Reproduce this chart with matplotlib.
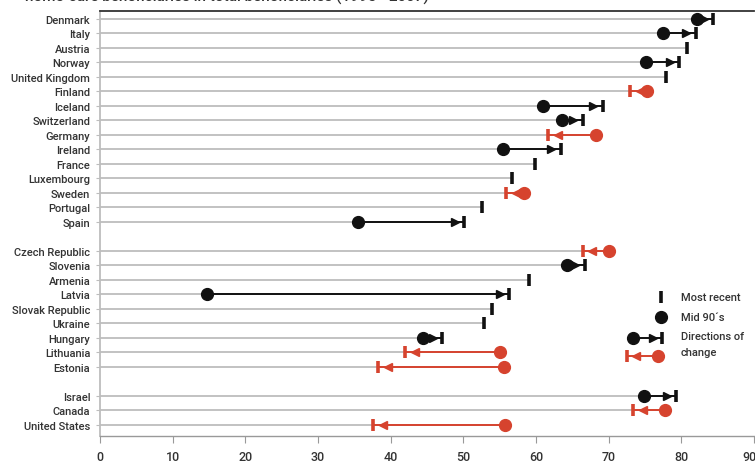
import matplotlib
matplotlib.use("Agg")
import matplotlib.pyplot as plt
import numpy as np

# ---- data ----
group1 = ["Denmark", "Italy", "Austria", "Norway", "United Kingdom", "Finland", "Iceland",
          "Switzerland", "Germany", "Ireland", "France", "Luxembourg", "Sweden", "Portugal", "Spain"]
group2 = ["Czech Republic", "Slovenia", "Armenia", "Latvia", "Slovak Republic", "Ukraine",
          "Hungary", "Lithuania", "Estonia"]
group3 = ["Israel", "Canada", "United States"]

recent1 = [84.4, 82.0, 80.8, 79.7, 77.9, 73.0, 69.2, 66.4, 61.7, 63.4, 59.9, 56.7, 55.9, 52.6, 50.1]
mid90_1 = [82.2, 77.5, None, 75.2, None, 75.3, 61.0, 63.6, 68.3, 55.4, None, None, 58.3, None, 35.5]
recent2 = [66.4, 66.7, 59.1, 56.3, 53.9, 52.8, 47.1, 42.0, 38.3]
mid90_2 = [70.1, 64.2, None, 14.7, None, None, 44.5, 55.1, 55.6]
recent3 = [79.3, 73.4, 37.6]
mid90_3 = [74.8, 77.7, 55.8]

xticks = [0, 10, 20, 30, 40, 50, 60, 70, 80, 90]
xticklabels = ["0", "10", "20", "30", "40", "50", "60", "70", "80", "90%"]

title = "home-care beneficiaries in total beneficiaries (1995 - 2007)"

# ---- style ----
BLACK = "#111111"
RED = "#d6432e"
GRAY = "#bdbdbd"
TXT = dict(fontfamily=["Roboto", "DejaVu Sans"], fontweight="medium")
fs_lab = 8

fig = plt.figure(figsize=(7.55, 4.64), dpi=100)
ax = fig.add_axes([100 / 755, 27 / 464, 654 / 755, 425 / 464])

countries, recent, mid = [], [], []
ypos = []
pos = 0
for gi, (c, r, m) in enumerate([(group1, recent1, mid90_1), (group2, recent2, mid90_2),
                                  (group3, recent3, mid90_3)]):
    if gi > 0:
        pos += 1
    for cc, rr, mm in zip(c, r, m):
        countries.append(cc)
        recent.append(rr)
        mid.append(mm)
        ypos.append(pos)
        pos += 1

tri_off = 1.3
for y, r, m in zip(ypos, recent, mid):
    xmax = r if m is None else max(r, m)
    ax.plot([0, xmax], [y, y], color=GRAY, lw=1.3, zorder=1, solid_capstyle="butt")
    if m is None:
        ax.plot([r], [y], marker="|", ms=9, mew=2.6, color=BLACK, zorder=4)
        continue
    col = BLACK if r > m else RED
    d = 1 if r > m else -1
    ax.plot([m, r], [y, y], color=col, lw=1.4, zorder=2)
    ax.plot([r - d * tri_off], [y], marker=">" if d > 0 else "<", ms=6, color=col,
            mec=col, zorder=3, lw=0)
    ax.plot([r], [y], marker="|", ms=9, mew=2.6, color=col, zorder=4)
    ax.plot([m], [y], marker="o", ms=8.5, color=col, mec=col, zorder=5)

ax.set_xlim(0, 90)
ax.set_ylim(28.76, -0.55)
ax.set_yticks(ypos)
ax.set_yticklabels(countries, fontsize=fs_lab, color="#333333", **TXT)
ax.set_xticks(xticks)
ax.set_xticklabels(xticklabels, fontsize=fs_lab + 1, color="#333333", **TXT)
ax.tick_params(axis="y", length=3, color=GRAY, pad=4)
ax.tick_params(axis="x", length=5, color="#999999", pad=5)

ax.spines["right"].set_visible(False)
ax.spines["top"].set_color("#333333")
ax.spines["top"].set_linewidth(1.3)
ax.spines["left"].set_color(GRAY)
ax.spines["left"].set_linewidth(1.3)
ax.spines["bottom"].set_color("#999999")
ax.spines["bottom"].set_linewidth(1.0)

# ---- legend (manual) ----
T = ax.transAxes
ax.plot([0.858], [0.327], transform=T, marker="|", ms=9, mew=2.6, color=BLACK, clip_on=False)
ax.plot([0.858], [0.280], transform=T, marker="o", ms=8.5, color=BLACK, clip_on=False)
# black arrow
ax.plot([0.815, 0.859], [0.231, 0.231], transform=T, color=BLACK, lw=1.4)
ax.plot([0.845], [0.231], transform=T, marker=">", ms=6, color=BLACK)
ax.plot([0.859], [0.231], transform=T, marker="|", ms=9, mew=2.6, color=BLACK)
ax.plot([0.815], [0.231], transform=T, marker="o", ms=8.5, color=BLACK)
# red arrow
ax.plot([0.806, 0.853], [0.188, 0.188], transform=T, color=RED, lw=1.4)
ax.plot([0.820], [0.188], transform=T, marker="<", ms=6, color=RED)
ax.plot([0.806], [0.188], transform=T, marker="|", ms=9, mew=2.6, color=RED)
ax.plot([0.853], [0.188], transform=T, marker="o", ms=8.5, color=RED)

lkw = dict(transform=T, fontsize=fs_lab, color="#333333", va="center", ha="left", **TXT)
ax.text(0.888, 0.327, "Most recent", **lkw)
ax.text(0.888, 0.280, "Mid 90´s", **lkw)
ax.text(0.888, 0.235, "Directions of", **lkw)
ax.text(0.888, 0.197, "change", **lkw)

fig.text(25 / 755, 1 - 2 / 464, title, fontsize=11, color="#333333",
         ha="left", va="baseline", **TXT)

fig.savefig("out.png", dpi=100)
